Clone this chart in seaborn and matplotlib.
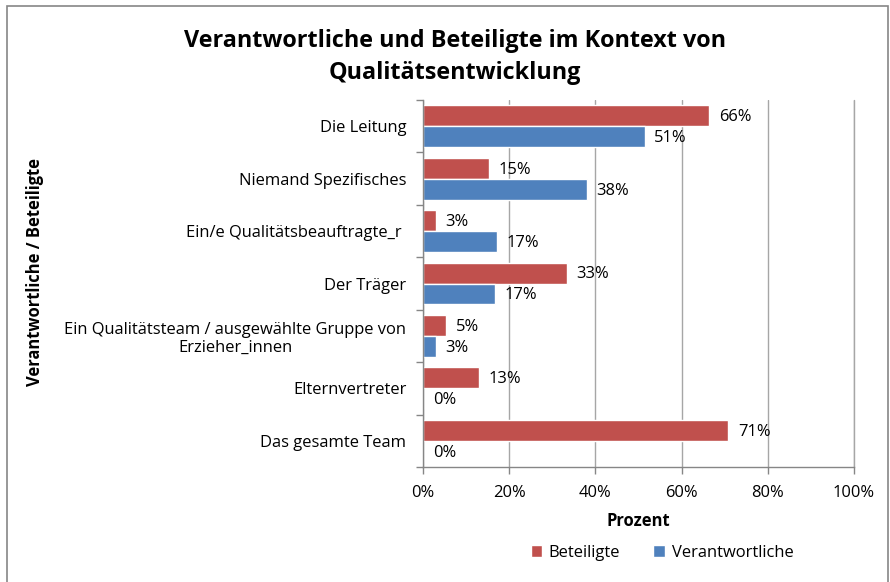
import matplotlib
matplotlib.use('Agg')
import matplotlib.pyplot as plt
import seaborn as sns
import pandas as pd
import numpy as np
from matplotlib.patches import Rectangle
from matplotlib.ticker import FixedLocator, PercentFormatter

categories = [
    'Die Leitung',
    'Niemand Spezifisches',
    'Ein/e Qualitätsbeauftragte_r ',
    'Der Träger',
    'Ein Qualitätsteam / ausgewählte Gruppe von\nErzieher_innen',
    'Elternvertreter',
    'Das gesamte Team',
]
beteiligte = [66.4, 15.3, 3.0, 33.4, 5.3, 13.0, 70.8]
verantwortliche = [51.4, 38.0, 17.2, 16.7, 3.0, 0.0, 0.0]
series = ['Beteiligte', 'Verantwortliche']
colors = ['#C0504D', '#4F81BD']
x_ticks = [0, 20, 40, 60, 80, 100]

df = pd.DataFrame({
    'Kategorie': categories * 2,
    'Wert': beteiligte + verantwortliche,
    'Gruppe': [series[0]] * len(categories) + [series[1]] * len(categories),
})

sns.set_style('white')
plt.rcParams['font.family'] = ['Open Sans', 'DejaVu Sans']
plt.rcParams['text.color'] = 'black'
plt.rcParams['axes.labelcolor'] = 'black'
plt.rcParams['xtick.labelcolor'] = 'black'
plt.rcParams['ytick.labelcolor'] = 'black'
fs = 11.9

fig = plt.figure(figsize=(8.9, 5.82), dpi=100)
ax = fig.add_axes([423 / 890, 1 - 467 / 582, (854 - 423) / 890, (467 - 100) / 582])

sns.barplot(data=df, y='Kategorie', x='Wert', hue='Gruppe', hue_order=series,
            palette=colors, orient='h', width=0.8, saturation=1, ax=ax,
            legend=True)

# data labels
for cont in ax.containers:
    for bar in cont:
        w = bar.get_width()
        ax.annotate(f'{round(w):d}%', (w, bar.get_y() + bar.get_height() / 2),
                    xytext=(7, -1), textcoords='offset points',
                    ha='left', va='center', fontsize=fs, color='black')

ax.set_xlim(0, 100)
ax.set_ylim(len(categories) - 0.5, -0.5)
ax.xaxis.set_major_locator(FixedLocator(x_ticks))
ax.xaxis.set_major_formatter(PercentFormatter(decimals=0))
ax.grid(axis='x', color='#A6A6A6', linewidth=1)
ax.axvline(100, color='#A6A6A6', linewidth=1, clip_on=False, zorder=0)
ax.set_axisbelow(True)

ax.yaxis.set_minor_locator(FixedLocator(np.arange(-0.5, len(categories), 1)))
ax.tick_params(axis='y', which='major', length=0, pad=12, labelsize=fs,
               labelcolor='black')
ax.tick_params(axis='y', which='minor', length=5, color='#868686', width=1,
               left=True, direction='out')
ax.tick_params(axis='x', which='major', length=5, color='#868686', width=1,
               bottom=True, direction='out', labelsize=fs, pad=8,
               labelcolor='black')
for lab in ax.get_yticklabels():
    lab.set_multialignment('center')

for side in ['top', 'right']:
    ax.spines[side].set_visible(False)
for side in ['left', 'bottom']:
    ax.spines[side].set_color('#868686')
    ax.spines[side].set_linewidth(1)

ax.set_xlabel('Prozent', fontsize=fs, fontweight='bold', labelpad=8, color='black')
ax.set_ylabel('')
fig.text(35 / 890, 1 - 272 / 582, 'Verantwortliche / Beteiligte', rotation=90,
         ha='center', va='center', fontsize=fs, fontweight='bold', color='black')

fig.suptitle('Verantwortliche und Beteiligte im Kontext von\nQualitätsentwicklung',
             x=455 / 890, y=1 - 57 / 582, va='center', fontsize=16.8, fontweight='bold',
             linespacing=1.4, color='black')

ax.legend(loc='center', bbox_to_anchor=(662 / 890, 1 - 553 / 582),
          bbox_transform=fig.transFigure, ncol=2, frameon=False,
          fontsize=fs, handlelength=0.7, handleheight=0.7,
          handletextpad=0.4, columnspacing=2.0)

fig.patches.append(Rectangle((7 / 890, -0.05), (888 - 7) / 890, 1.05 - 6 / 582,
                             transform=fig.transFigure, fill=False,
                             edgecolor='#868686', linewidth=1.2))

fig.savefig('out.png', dpi=100)
